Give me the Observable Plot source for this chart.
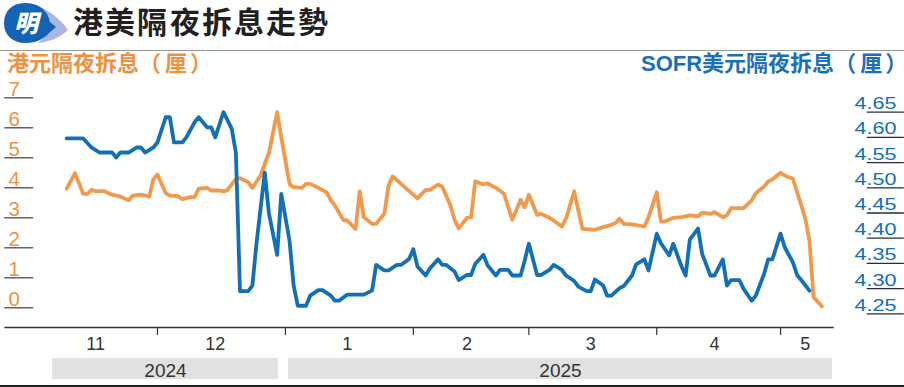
<!DOCTYPE html>
<html><head><meta charset="utf-8">
<script src="https://cdn.jsdelivr.net/npm/d3@7"></script>
<script src="https://cdn.jsdelivr.net/npm/@observablehq/plot@0.6"></script>
<style>
@font-face{font-family:"TitleTC";src:local("Noto Sans CJK TC Bold"),local("NotoSansCJKtc-Bold");font-weight:700;ascent-override:88%;descent-override:12%;line-gap-override:0%;}
html,body{margin:0;padding:0;background:#fff;}
#wrap{position:relative;width:904px;height:387px;overflow:hidden;font-family:"Liberation Sans","Noto Sans CJK TC",sans-serif;}
#title{position:absolute;left:73px;top:5.7px;font-family:"TitleTC","Noto Sans CJK TC",sans-serif;font-weight:700;font-size:30px;line-height:32px;color:#231f20;white-space:nowrap;letter-spacing:2.2px;}
#rule{position:absolute;left:0;top:49.5px;width:904px;height:1.3px;background:#9a9a9a;}
.sub{position:absolute;top:53px;font-size:22px;line-height:22px;font-weight:700;white-space:nowrap;font-family:"Liberation Sans","Noto Sans CJK TC",sans-serif;}
.sub .p{letter-spacing:4px;}
.sub .q{font-feature-settings:"palt";}
#subL{left:7px;color:#f0913f;}
#subR{left:641px;color:#1a70b8;}
#chart{position:absolute;left:0;top:78px;}
#years{position:absolute;left:0;top:354px;}
#bottom{position:absolute;left:0;top:385px;width:904px;height:2px;background:#222;}
</style></head><body>
<div id="wrap">
  <svg id="logo" width="72" height="48" style="position:absolute;left:0;top:0">
    <path d="M36,5 C48,10 60,18 68,30 C60,38 48,42 38,43 C46,36 50,30 50,24 C50,16 44,9 36,5 Z" fill="#aab6e4"/>
    <path d="M25,3 C11,3 4,12 4,23 C4,35 12,43 26,43 C36,43 44,39 49,33 L56,27 L50,22 C48,10 38,3 25,3 Z" fill="#1463b5"/>
    <text x="26" y="32" text-anchor="middle" font-size="24" font-weight="900" fill="#fff" font-style="italic" font-family="Noto Sans CJK TC">明</text>
  </svg>
  <div id="title">港美隔夜拆息走勢</div>
  <div id="rule"></div>
  <div id="subL" class="sub">港元隔夜拆息<span class="p">（厘</span><span class="q">）</span></div>
  <div id="subR" class="sub">SOFR美元隔夜拆息<span class="p">（厘</span><span class="q">）</span></div>
  <div id="chart"></div>
  <div id="years"></div>
  <div id="bottom"></div>
</div>
<script>
// HIBOR overnight (HKD, %), left axis
const hiborDates = ["2024-11-09","2024-11-11","2024-11-13","2024-11-14","2024-11-15","2024-11-16","2024-11-18","2024-11-20","2024-11-22","2024-11-24","2024-11-25","2024-11-27","2024-11-29","2024-11-30",
"2024-12-01","2024-12-03","2024-12-04","2024-12-06","2024-12-07","2024-12-09","2024-12-10","2024-12-11","2024-12-13","2024-12-14","2024-12-16","2024-12-17","2024-12-18","2024-12-20","2024-12-21","2024-12-23","2024-12-24","2024-12-26","2024-12-27","2024-12-28","2024-12-30","2024-12-31",
"2025-01-02","2025-01-03","2025-01-05","2025-01-06","2025-01-07","2025-01-09","2025-01-11","2025-01-12","2025-01-13","2025-01-15","2025-01-16","2025-01-18","2025-01-19","2025-01-20","2025-01-22","2025-01-23","2025-01-25","2025-01-26","2025-01-27",
"2025-02-02","2025-02-04","2025-02-05","2025-02-07","2025-02-08","2025-02-10","2025-02-11","2025-02-12","2025-02-14","2025-02-15","2025-02-16","2025-02-18","2025-02-19","2025-02-21","2025-02-23","2025-02-24","2025-02-25","2025-02-27","2025-02-28",
"2025-03-01","2025-03-03","2025-03-04","2025-03-06","2025-03-07","2025-03-09","2025-03-10","2025-03-12","2025-03-13","2025-03-14","2025-03-16","2025-03-17","2025-03-19","2025-03-20","2025-03-22","2025-03-23","2025-03-24","2025-03-26","2025-03-29","2025-03-30",
"2025-04-01","2025-04-02","2025-04-03","2025-04-05","2025-04-07","2025-04-09","2025-04-11","2025-04-12","2025-04-14","2025-04-15","2025-04-17","2025-04-18","2025-04-19","2025-04-21","2025-04-22","2025-04-24","2025-04-25","2025-04-27","2025-04-28","2025-04-29",
"2025-05-01","2025-05-02","2025-05-04","2025-05-05","2025-05-06","2025-05-07","2025-05-08","2025-05-09","2025-05-11"];
const hiborRates = [3.97,4.49,3.80,3.80,3.93,3.89,3.89,3.77,3.71,3.58,3.74,3.77,3.71,4.28,
4.44,3.82,3.74,3.72,3.62,3.69,3.70,3.97,4.00,3.91,3.91,3.88,3.93,4.30,4.32,4.19,4.00,4.41,4.80,5.15,6.52,5.69,
4.13,4.02,4.00,4.13,4.13,4.00,3.85,3.60,3.41,2.93,2.91,2.63,3.88,3.02,2.80,2.80,3.15,4.08,4.38,
3.65,3.93,3.93,4.11,4.04,3.41,2.93,2.65,3.00,3.02,4.22,4.11,4.15,4.00,3.80,3.35,2.93,3.60,3.35,
3.77,3.10,3.13,3.00,2.91,2.71,2.97,3.88,3.24,2.63,2.61,2.60,2.69,2.72,2.83,2.97,2.80,2.78,2.71,3.02,
3.85,2.88,2.88,3.00,3.02,3.08,3.05,3.17,3.13,3.19,3.02,3.08,3.32,3.32,3.32,3.58,3.82,4.04,4.21,4.28,
4.50,4.41,4.30,3.85,3.43,2.97,2.24,0.35,0.05];

// SOFR (USD, %), right axis
const sofrDates = ["2024-11-09","2024-11-13","2024-11-14","2024-11-15","2024-11-17","2024-11-20","2024-11-21","2024-11-22","2024-11-24","2024-11-26","2024-11-27","2024-11-28","2024-11-30",
"2024-12-01","2024-12-03","2024-12-04","2024-12-05","2024-12-07","2024-12-08","2024-12-10","2024-12-11","2024-12-13","2024-12-14","2024-12-15","2024-12-17","2024-12-19","2024-12-20","2024-12-21","2024-12-23","2024-12-24","2024-12-25","2024-12-27","2024-12-28","2024-12-30","2024-12-31",
"2025-01-02","2025-01-03","2025-01-04","2025-01-06","2025-01-07","2025-01-09","2025-01-10","2025-01-12","2025-01-13","2025-01-14","2025-01-16","2025-01-20","2025-01-22","2025-01-23","2025-01-25","2025-01-26","2025-01-28","2025-01-29","2025-01-31",
"2025-02-01","2025-02-02","2025-02-04","2025-02-05","2025-02-07","2025-02-08","2025-02-09","2025-02-11","2025-02-12","2025-02-14","2025-02-15","2025-02-16","2025-02-18","2025-02-19","2025-02-21","2025-02-22","2025-02-24","2025-02-25","2025-02-27","2025-02-28",
"2025-03-01","2025-03-03","2025-03-04","2025-03-06","2025-03-07","2025-03-09","2025-03-10","2025-03-12","2025-03-13","2025-03-15","2025-03-16","2025-03-17","2025-03-19","2025-03-20","2025-03-21","2025-03-23","2025-03-24","2025-03-26","2025-03-27","2025-03-29","2025-03-30",
"2025-04-01","2025-04-02","2025-04-04","2025-04-05","2025-04-07","2025-04-08","2025-04-09","2025-04-11","2025-04-12","2025-04-14","2025-04-15","2025-04-17","2025-04-18","2025-04-19","2025-04-21","2025-04-22","2025-04-24","2025-04-25","2025-04-27","2025-04-28","2025-04-29",
"2025-05-01","2025-05-02","2025-05-04","2025-05-05","2025-05-06","2025-05-08"];
const sofrRates = [4.598,4.598,4.589,4.58,4.57,4.57,4.56,4.57,4.57,4.58,4.58,4.57,4.58,
4.59,4.64,4.64,4.59,4.59,4.60,4.63,4.64,4.62,4.62,4.60,4.65,4.617,4.57,4.295,4.295,4.306,4.39,4.53,4.45,4.367,4.488,
4.395,4.306,4.266,4.266,4.286,4.297,4.297,4.286,4.276,4.276,4.288,4.288,4.296,4.347,4.336,4.336,4.347,4.347,4.359,
4.378,4.344,4.326,4.34,4.358,4.347,4.347,4.334,4.317,4.327,4.327,4.349,4.367,4.346,4.326,4.337,4.337,4.326,4.326,4.356,
4.389,4.327,4.327,4.337,4.347,4.337,4.326,4.315,4.304,4.295,4.295,4.318,4.306,4.286,4.286,4.301,4.305,4.326,4.348,4.358,4.336,
4.409,4.39,4.366,4.389,4.344,4.326,4.397,4.419,4.369,4.326,4.326,4.358,4.306,4.317,4.317,4.3,4.276,4.286,4.329,4.358,4.358,
4.409,4.382,4.352,4.327,4.317,4.296];

const hkTicks = [0,1,2,3,4,5,6,7];
const usTicks = [4.25,4.30,4.35,4.40,4.45,4.50,4.55,4.60,4.65];
const monthStarts = ["2024-12-01","2025-01-01","2025-02-01","2025-03-01","2025-04-01","2025-05-01"];
const monthLabels = ["11","12","1","2","3","4","5"];
const monthLabelDates = ["2024-11-16","2024-12-15","2025-01-16","2025-02-14","2025-03-16","2025-04-15","2025-05-07"];
const yearLabels = ["2024","2025"];
const yearStarts = ["2024-11-05T13:00Z","2025-01-01T18:00Z"];
const yearEnds = ["2024-12-30T08:00Z","2025-05-13T14:00Z"];

const ORANGE = "#f4994b", BLUE = "#1170b8";
const parse = d3.utcParse("%Y-%m-%d");
const hibor = hiborDates.map((d,i)=>({date: parse(d), value: hiborRates[i]}));
// map SOFR values onto the left-axis units (dual axis)
const sofrToLeft = d3.scaleLinear().domain([4.25, 4.65]).range([-0.2, 6.52]);
const sofr = sofrDates.map((d,i)=>({date: parse(d), value: sofrToLeft(sofrRates[i])}));

const xDomain = [parse("2024-10-25"), parse("2025-05-14")];
const xRange = [4.3, 833.7];
// extents (in time units) of the short tick rules of the two value axes
const leftRule = [parse("2024-10-25"), parse("2024-11-01")];
const rightRule = [parse("2025-05-22"), parse("2025-05-31")];
const fontFam = "'Liberation Sans', Arial, sans-serif";

const chart = Plot.plot({
  width: 904, height: 276,
  marginTop: 0, marginBottom: 27, marginLeft: 33, marginRight: 39,
  x: {type: "utc", domain: xDomain, range: xRange},
  y: {domain: [0, 7], range: [229.3, 19.3]},
  style: {fontFamily: fontFam, background: "transparent", overflow: "visible"},
  marks: [
    Plot.ruleY(hkTicks, {y: d => d, x1: () => leftRule[0], x2: () => leftRule[1], stroke: "#4a4a4a", strokeWidth: 1.3}),
    Plot.ruleY(usTicks, {y: d => sofrToLeft(d), x1: () => rightRule[0], x2: () => rightRule[1], stroke: "#2b2b3a", strokeWidth: 1.3}),
    Plot.axisY(hkTicks, {anchor: "left", label: null, tickSize: 0, tickPadding: 25, textAnchor: "start", dy: -2,
      lineAnchor: "bottom", fill: "#f0913f", fontSize: 20.5, tickFormat: d => String(d)}),
    Plot.axisY(usTicks.map(v => sofrToLeft(v)), {anchor: "right", label: null, tickSize: 0, tickPadding: 31, textAnchor: "end", dy: -3,
      lineAnchor: "bottom", fill: BLUE, fontSize: 16.5, tickFormat: v => sofrToLeft.invert(v).toFixed(2)}),
    Plot.ruleY([{y: 0, a: xDomain[0], b: xDomain[1]}], {y: "y", x1: "a", x2: "b", dy: 19.7, stroke: "#333", strokeWidth: 1.3}),
    Plot.axisX(monthStarts.map(parse), {anchor: "bottom", label: null, tickSize: 8, stroke: "#333", strokeWidth: 1.2, tickFormat: () => ""}),
    Plot.text(monthLabels, {x: (d,i) => parse(monthLabelDates[i]), text: d => d, frameAnchor: "bottom", lineAnchor: "top", dy: 10, fontSize: 18, fill: "#333"}),
    Plot.line(hibor, {x: "date", y: "value", stroke: ORANGE, strokeWidth: 3.8, strokeLinejoin: "round"}),
    Plot.line(sofr, {x: "date", y: "value", stroke: BLUE, strokeWidth: 3.8, strokeLinejoin: "round"})
  ]
});
document.getElementById("chart").appendChild(chart);
// the right-hand tick labels are set in a wide face
d3.select(chart).selectAll("text").filter(function(){ return /^\d\.\d\d$/.test(this.textContent); })
  .attr("textLength", 42).attr("lengthAdjust", "spacingAndGlyphs");

const years = yearLabels.map((l,i)=>({label: l, start: new Date(yearStarts[i]), end: new Date(yearEnds[i])}));
const yearPlot = Plot.plot({
  width: 904, height: 31, marginTop: 4, marginBottom: 6, marginLeft: 0, marginRight: 0,
  x: {type: "utc", domain: xDomain, range: xRange, axis: null},
  style: {fontFamily: fontFam, background: "transparent"},
  marks: [
    Plot.rect(years, {x1: "start", x2: "end", fill: "#e1e1e1"}),
    Plot.text(years, {x: d => new Date((+d.start + +d.end) / 2), text: "label", fontSize: 19, fill: "#333", dy: 2})
  ]
});
document.getElementById("years").appendChild(yearPlot);
</script>
</body></html>
